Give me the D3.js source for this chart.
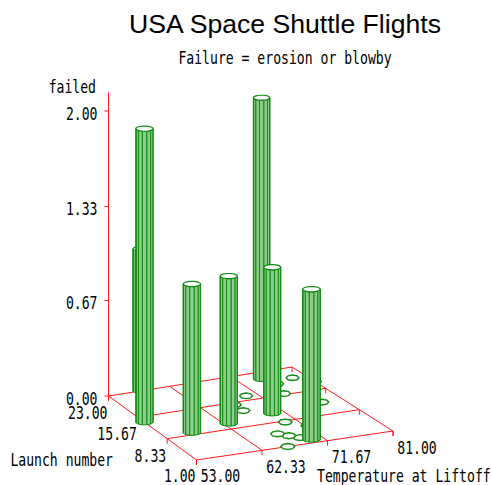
<!DOCTYPE html>
<html>
<head>
<meta charset="utf-8">
<script src="https://cdn.jsdelivr.net/npm/d3@7"></script>
<style>
  html, body { margin: 0; padding: 0; background: #ffffff; }
  svg { display: block; }
</style>
</head>
<body>
<svg id="chart" width="492" height="485"></svg>
<script>
// Shuttle launches before Challenger: liftoff temperature (°F) and O-ring failures
const launchNumber = [1, 2, 3, 4, 5, 6, 7, 8, 9, 10, 11, 12, 13, 14, 15, 16, 17, 18, 19, 20, 21, 22, 23];
const temperature  = [66, 70, 69, 68, 67, 72, 73, 70, 57, 63, 70, 78, 67, 53, 67, 75, 70, 81, 76, 79, 75, 76, 58];
const failed       = [0, 1, 0, 0, 0, 0, 0, 0, 1, 1, 1, 0, 0, 2, 0, 0, 0, 0, 0, 0, 2, 0, 1];

const tempTicks   = [53.00, 62.33, 71.67, 81.00];
const launchTicks = [1.00, 8.33, 15.67, 23.00];
const failTicks   = [0.00, 0.67, 1.33, 2.00];

const svg = d3.select("#chart");

// Floor corners on screen (front-left, front-right, back-left, back-right)
const C = {
  f0: [196.5, 460], f1: [393, 431],
  b0: [108.5, 396], b1: [292, 367]
};

const uScale = d3.scaleLinear().domain([53, 81]).range([0, 1]);
const vScale = d3.scaleLinear().domain([1, 23]).range([0, 1]);
const zScale = d3.scaleLinear().domain([0, 2]).range([0, 285]);

const lerp = (a, b, t) => [a[0] + (b[0] - a[0]) * t, a[1] + (b[1] - a[1]) * t];

// Depth foreshortening factor: nearer (front-left) things draw slightly larger
const depthK = (t, L) => 1.073 - 0.025 * uScale(t) - 0.073 * vScale(L);

// Project (temperature, launch, failed) to screen
function project(t, L, f) {
  const u = uScale(t), v = vScale(L);
  const front = lerp(C.f0, C.f1, u);
  const back = lerp(C.b0, C.b1, u);
  const p = lerp(front, back, v);
  return [p[0], p[1] - zScale(f) * depthK(t, L)];
}

const RED = "#ff1a1a";
const GREEN_LINE = "#128a12";
const GREEN_FILL = "#8ccd8c";
const GREEN_LIGHT = "#f2fbf2";
const BOTTOM_LINE = 481.5; // lowest baseline that keeps text inside the frame

// Narrow stroke-style lettering for axis text
function mono(g, x, y, str, anchor) {
  return g.append("text")
    .attr("transform", `translate(${x},${y}) scale(0.772,1)`)
    .attr("text-anchor", anchor || "start")
    .attr("font-family", "DejaVu Sans Mono")
    .attr("font-size", 17)
    .attr("fill", "#000")
    .text(str);
}

// Title block
svg.append("text")
  .attr("x", 285).attr("y", 32.5)
  .attr("text-anchor", "middle")
  .attr("font-family", "Liberation Sans, Arial, sans-serif")
  .attr("font-size", 26.6)
  .attr("fill", "#000")
  .text("USA Space Shuttle Flights");
mono(svg, 285, 63.5, "Failure = erosion or blowby", "middle");

// Floor grid
const floor = svg.append("g").attr("stroke", RED).attr("stroke-width", 1).attr("fill", "none");
const line = d3.line();
tempTicks.forEach(t => {
  floor.append("path").attr("d", line([project(t, 1, 0), project(t, 23, 0)]));
});
launchTicks.forEach(L => {
  floor.append("path").attr("d", line([project(53, L, 0), project(81, L, 0)]));
});

// Tick marks hanging below the floor edges
const tickLen = 5;
tempTicks.forEach(t => {
  const p = project(t, 1, 0);
  floor.append("path").attr("d", line([p, [p[0], p[1] + tickLen]]));
});
launchTicks.forEach(L => {
  const p = project(53, L, 0);
  floor.append("path").attr("d", line([p, [p[0], p[1] + tickLen]]));
  const q = project(81, L, 0);
  floor.append("path").attr("d", line([q, [q[0], q[1] + tickLen]]));
});

// Vertical (failed) axis at back-left corner
const axisBase = project(53, 23, 0);
const axisTop = project(53, 23, 2.13);
floor.append("path").attr("d", line([axisBase, axisTop]));
failTicks.forEach(f => {
  const p = project(53, 23, f);
  floor.append("path").attr("d", line([[p[0] - 4, p[1]], p]));
});

// Axis labels
const labels = svg.append("g");
failTicks.forEach(f => {
  const p = project(53, 23, f);
  mono(labels, p[0] - 11, p[1] + 8.5, f.toFixed(2), "end");
});
mono(labels, 96, 93, "failed", "end");

launchTicks.forEach(L => {
  const p = project(53, L, 0);
  mono(labels, p[0] - 1, Math.min(p[1] + 23, BOTTOM_LINE), L.toFixed(2), "end");
});
mono(labels, 113, 466, "Launch number", "end");

tempTicks.forEach(t => {
  const p = project(t, 1, 0);
  mono(labels, p[0] + 24, Math.min(p[1] + 22.5, BOTTOM_LINE), t.toFixed(2), "middle");
});
mono(labels, 317, BOTTOM_LINE, "Temperature at Liftoff", "start");

// Prism cross-section (12-gon) in screen space
const RX = 8.4, RY = 2.6, NSIDE = 12;
const angles = d3.range(NSIDE).map(i => (15 + i * 30) * Math.PI / 180);
const ring = (c, rx, ry, angs) => (angs || angles).map(a => [c[0] + rx * Math.cos(a), c[1] + ry * Math.sin(a)]);

const flights = launchNumber.map((L, i) => ({
  launch: L, temp: temperature[i], failed: failed[i]
}));

// Flights without failures: outline on the floor
const markerAngles = d3.range(8).map(i => (i * 45) * Math.PI / 180);
const markers = svg.append("g");
flights.filter(d => d.failed === 0)
  .forEach(d => {
    const c = project(d.temp, d.launch, 0);
    const k = depthK(d.temp, d.launch);
    markers.append("path")
      .attr("d", line(ring(c, 6.5 * k, 2.8 * k, markerAngles)) + "Z")
      .attr("fill", "#ffffff")
      .attr("stroke", GREEN_LINE)
      .attr("stroke-width", 1.4);
  });

// Flights with failures: prisms, drawn back to front
const bars = svg.append("g");
flights.filter(d => d.failed > 0)
  .map(d => ({ ...d, k: depthK(d.temp, d.launch), base: project(d.temp, d.launch, 0), top: project(d.temp, d.launch, d.failed) }))
  .sort((a, b) => a.base[1] - b.base[1])
  .forEach(d => {
    const g = bars.append("g");
    const rx = RX * d.k, ry = RY * d.k;
    const bot = ring(d.base, rx, ry);
    const top = ring(d.top, rx, ry);
    // front-facing vertices (lower half of the section), right to left
    const front = [];
    for (let i = 0; i < NSIDE; i++) if (Math.sin(angles[i]) > 0) front.push(i);
    const right = [d.top[0] + rx, d.top[1]], left = [d.top[0] - rx, d.top[1]];
    const rightB = [d.base[0] + rx, d.base[1]], leftB = [d.base[0] - rx, d.base[1]];
    const tops = [right, ...front.map(i => top[i]), left];
    const bots = [rightB, ...front.map(i => bot[i]), leftB];
    for (let j = 0; j < tops.length - 1; j++) {
      const isLeft = j === tops.length - 2;
      g.append("path")
        .attr("d", line([tops[j], tops[j + 1], bots[j + 1], bots[j]]) + "Z")
        .attr("fill", isLeft ? GREEN_LIGHT : GREEN_FILL)
        .attr("stroke", GREEN_LINE)
        .attr("stroke-width", 1);
    }
    g.append("path")
      .attr("d", line(top) + "Z")
      .attr("fill", "#ffffff")
      .attr("stroke", GREEN_LINE)
      .attr("stroke-width", 1.2);
  });
</script>
</body>
</html>
